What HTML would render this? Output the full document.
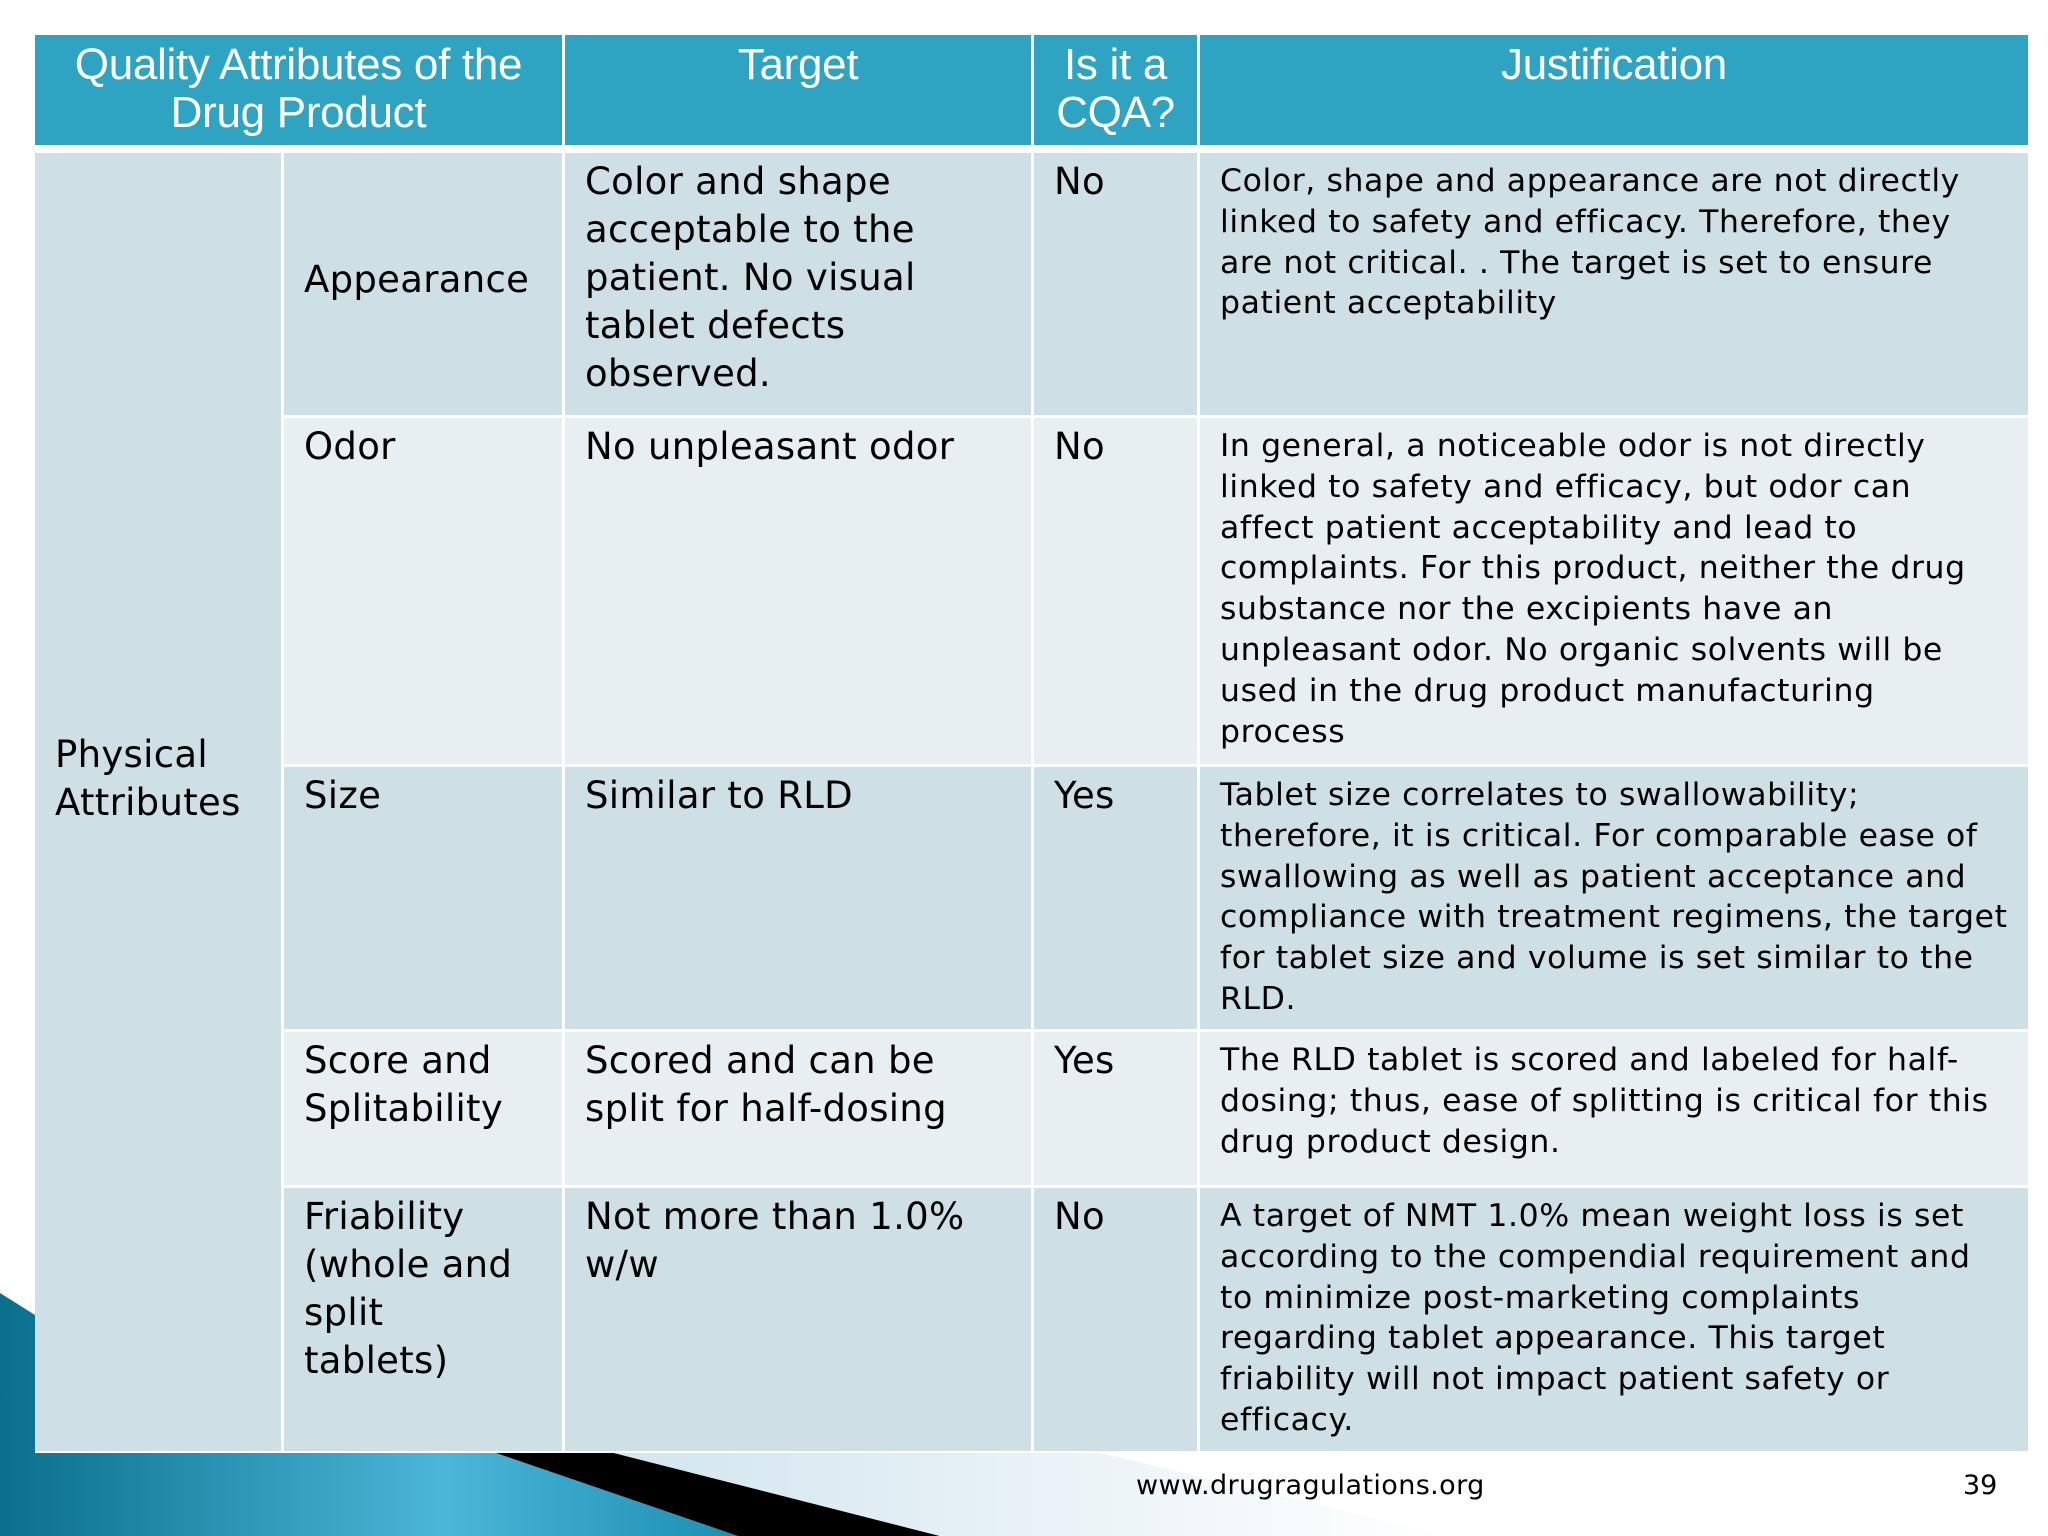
<!DOCTYPE html>
<html><head><meta charset="utf-8">
<style>
body{margin:0;width:2048px;height:1536px;overflow:hidden;background:#fff;position:relative;font-family:"DejaVu Sans","Liberation Sans",sans-serif}
.c{position:absolute;box-sizing:border-box}
.h{background:#2fa3c2;color:#fff;font-family:"Liberation Sans Narrow","Liberation Sans",sans-serif;font-size:44px;line-height:48px;text-align:center;padding-top:6px;letter-spacing:-0.3px}
.d{background:#cedfe6;color:#000}
.l{background:#e8eff3;color:#000}
.t{font-size:37px;line-height:48px;padding:5px 20px 0 20px;letter-spacing:0.3px}
.j{font-size:31.5px;line-height:40.8px;padding:8px 0 0 20px;letter-spacing:0.6px;white-space:nowrap;overflow:hidden}
</style></head><body>
<svg class="c" style="left:0;top:0" width="2048" height="1536">
<defs><linearGradient id="g" x1="0" x2="1" y1="0" y2="0"><stop offset="0" stop-color="#0a6f8d"/><stop offset="0.6" stop-color="#4cb6d8"/><stop offset="1" stop-color="#1b8fb3"/></linearGradient>
<linearGradient id="p" x1="0" x2="1" y1="0" y2="0"><stop offset="0" stop-color="#d2e5ee"/><stop offset="1" stop-color="#ffffff"/></linearGradient></defs>
<polygon points="0,1293 35,1315 35,1453 496,1453 738,1536 0,1536" fill="url(#g)"/>
<polygon points="496,1453 614,1453 940,1536 738,1536" fill="#000"/>
<polygon points="614,1453 1100,1453 1450,1536 940,1536" fill="url(#p)"/>
</svg>
<div class="c h" style="left:35px;top:35px;width:527px;height:110px">Quality Attributes of the<br>Drug Product</div>
<div class="c h" style="left:565px;top:35px;width:466px;height:110px">Target</div>
<div class="c h" style="left:1034px;top:35px;width:163px;height:110px">Is it a<br>CQA?</div>
<div class="c h" style="left:1200px;top:35px;width:828px;height:110px">Justification</div>

<div class="c d t" style="left:35px;top:153px;width:246px;height:1298px;padding:0 0 46px 20px;display:flex;align-items:center">Physical<br>Attributes</div>

<div class="c d t" style="left:284px;top:153px;width:278px;height:262px;display:flex;align-items:center;padding-top:0;padding-bottom:8px">Appearance</div>
<div class="c d t" style="left:565px;top:153px;width:466px;height:262px">Color and shape acceptable to the patient. No visual tablet defects observed.</div>
<div class="c d t" style="left:1034px;top:153px;width:163px;height:262px">No</div>
<div class="c d j" style="left:1200px;top:153px;width:828px;height:262px">Color, shape and appearance are not directly<br>linked to safety and efficacy. Therefore, they<br>are not critical. . The target is set to ensure<br>patient acceptability</div>

<div class="c l t" style="left:284px;top:418px;width:278px;height:346px">Odor</div>
<div class="c l t" style="left:565px;top:418px;width:466px;height:346px">No unpleasant odor</div>
<div class="c l t" style="left:1034px;top:418px;width:163px;height:346px">No</div>
<div class="c l j" style="left:1200px;top:418px;width:828px;height:346px">In general, a noticeable odor is not directly<br>linked to safety and efficacy, but odor can<br>affect patient acceptability and lead to<br>complaints. For this product, neither the drug<br>substance nor the excipients have an<br>unpleasant odor. No organic solvents will be<br>used in the drug product manufacturing<br>process</div>

<div class="c d t" style="left:284px;top:767px;width:278px;height:262px">Size</div>
<div class="c d t" style="left:565px;top:767px;width:466px;height:262px">Similar to RLD</div>
<div class="c d t" style="left:1034px;top:767px;width:163px;height:262px">Yes</div>
<div class="c d j" style="left:1200px;top:767px;width:828px;height:262px">Tablet size correlates to swallowability;<br>therefore, it is critical. For comparable ease of<br>swallowing as well as patient acceptance and<br>compliance with treatment regimens, the target<br>for tablet size and volume is set similar to the<br>RLD.</div>

<div class="c l t" style="left:284px;top:1032px;width:278px;height:153px">Score and Splitability</div>
<div class="c l t" style="left:565px;top:1032px;width:466px;height:153px">Scored and can be split for half-dosing</div>
<div class="c l t" style="left:1034px;top:1032px;width:163px;height:153px">Yes</div>
<div class="c l j" style="left:1200px;top:1032px;width:828px;height:153px">The RLD tablet is scored and labeled for half-<br>dosing; thus, ease of splitting is critical for this<br>drug product design.</div>

<div class="c d t" style="left:284px;top:1188px;width:278px;height:263px">Friability<br>(whole and<br>split<br>tablets)</div>
<div class="c d t" style="left:565px;top:1188px;width:466px;height:263px">Not more than 1.0% w/w</div>
<div class="c d t" style="left:1034px;top:1188px;width:163px;height:263px">No</div>
<div class="c d j" style="left:1200px;top:1188px;width:828px;height:263px">A target of NMT 1.0% mean weight loss is set<br>according to the compendial requirement and<br>to minimize post-marketing complaints<br>regarding tablet appearance. This target<br>friability will not impact patient safety or<br>efficacy.</div>

<div class="c" style="left:1136px;top:1470px;font-size:27px;letter-spacing:0.4px;color:#000">www.drugragulations.org</div>
<div class="c" style="left:1963px;top:1470px;font-size:27px;color:#000">39</div>
</body></html>
